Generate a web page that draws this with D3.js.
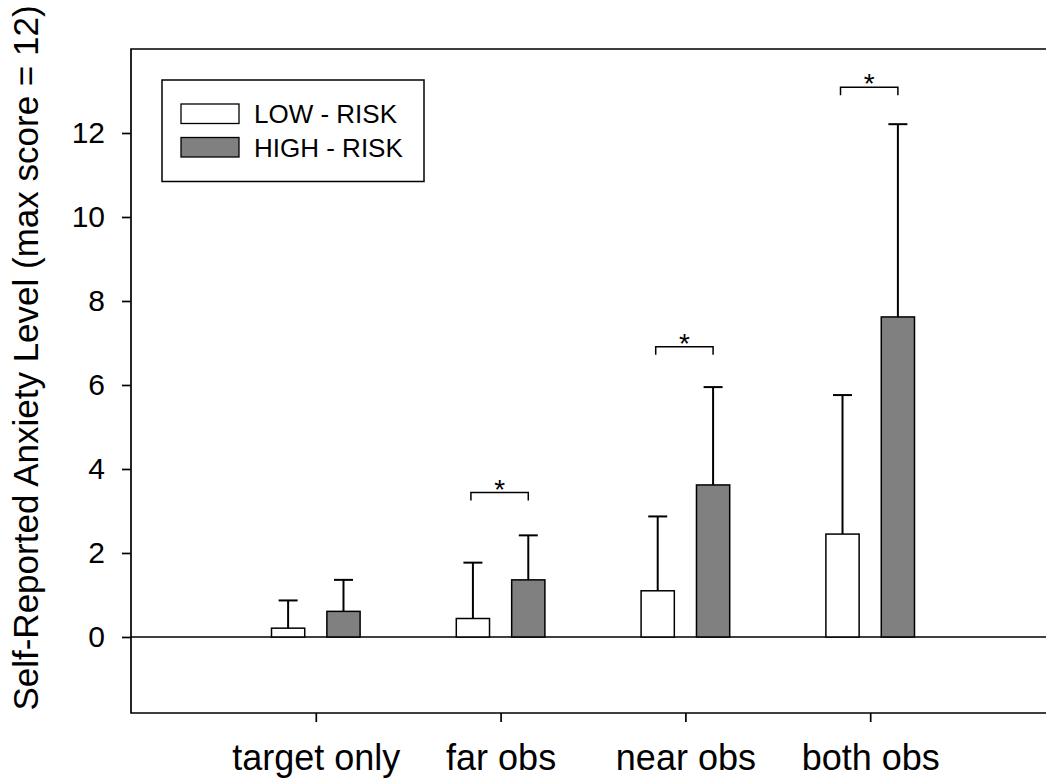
<!DOCTYPE html>
<html lang="en">
  <head>
    <meta charset="UTF-8" />
    <title>Self-Reported Anxiety Level</title>
    <script src="https://cdn.jsdelivr.net/npm/d3@7"></script>
    <style>
      html, body { margin: 0; padding: 0; background: #fff; }
      text { font-family: Arial, "Liberation Sans", sans-serif; fill: #000; }
    </style>
  </head>
  <body>
    <div id="svgCanvas"></div>
    <script>
      // data
      var categories = ["target only", "far obs", "near obs", "both obs"];
      var groups = ["LOW - RISK", "HIGH - RISK"];
      var lowMeans = [0.21, 0.44, 1.1, 2.45];
      var lowErr = [0.66, 1.33, 1.77, 3.31];
      var highMeans = [0.61, 1.36, 3.62, 7.62];
      var highErr = [0.75, 1.06, 2.33, 4.59];
      var sigBrackets = [
        { cat: "far obs", level: 3.44 },
        { cat: "near obs", level: 6.91 },
        { cat: "both obs", level: 13.09 }
      ];
      var yTicks = [0, 2, 4, 6, 8, 10, 12];
      var fills = ["#ffffff", "#808080"];

      var width = 1046, height = 784;
      var mLeft = 131, mTop = 49, mBottom = 713, mRight = 1055;

      var svg = d3.select("#svgCanvas").append("svg")
        .attr("width", width)
        .attr("height", height);

      var x = d3.scalePoint().domain(categories).range([mLeft, mRight]).padding(1);
      var xInner = d3.scaleBand().domain(groups).range([-44.3, 44.3]).paddingInner(0.4);
      var y = d3.scaleLinear().domain([-1.81, 14]).range([mBottom, mTop]);

      var rows = [];
      categories.forEach(function (c, i) {
        rows.push({ cat: c, g: groups[0], v: lowMeans[i], e: lowErr[i], fill: fills[0] });
        rows.push({ cat: c, g: groups[1], v: highMeans[i], e: highErr[i], fill: fills[1] });
      });

      // frame (open on the right, it runs off the canvas)
      svg.append("path")
        .attr("d", "M" + width + "," + mTop + "H" + mLeft + "V" + mBottom + "H" + width)
        .attr("fill", "none")
        .attr("stroke", "#000")
        .attr("stroke-width", 1.7);

      // zero line
      svg.append("line")
        .attr("x1", mLeft).attr("x2", width)
        .attr("y1", y(0)).attr("y2", y(0))
        .attr("stroke", "#000").attr("stroke-width", 1.7);

      // y axis
      var gY = svg.append("g")
        .attr("transform", "translate(" + mLeft + ",0)")
        .call(d3.axisLeft(y).tickValues(yTicks).tickSize(9).tickPadding(17).tickFormat(d3.format("d")));
      gY.select(".domain").remove();
      gY.selectAll(".tick line").attr("stroke", "#000").attr("stroke-width", 1.7);
      gY.selectAll(".tick text")
        .style("font-family", "Arial, 'Liberation Sans', sans-serif")
        .style("font-size", "30px")
        .attr("fill", "#000");

      // x axis
      var gX = svg.append("g")
        .attr("transform", "translate(0," + mBottom + ")")
        .call(d3.axisBottom(x).tickSize(9).tickPadding(22));
      gX.select(".domain").remove();
      gX.selectAll(".tick line").attr("stroke", "#000").attr("stroke-width", 1.7);
      gX.selectAll(".tick text")
        .style("font-family", "Arial, 'Liberation Sans', sans-serif")
        .style("font-size", "36px")
        .attr("fill", "#000");

      // y title
      svg.append("text")
        .attr("transform", "translate(38,358) rotate(-90)")
        .attr("text-anchor", "middle")
        .style("font-size", "35px")
        .text("Self-Reported Anxiety Level (max score = 12)");

      function cx(d) { return x(d.cat) + xInner(d.g) + xInner.bandwidth() / 2; }

      // error bars (upper only)
      svg.selectAll("line.err").data(rows).enter().append("line")
        .attr("class", "err")
        .attr("x1", cx).attr("x2", cx)
        .attr("y1", function (d) { return y(d.v); })
        .attr("y2", function (d) { return y(d.v + d.e); })
        .attr("stroke", "#000").attr("stroke-width", 2);
      svg.selectAll("line.cap").data(rows).enter().append("line")
        .attr("class", "cap")
        .attr("x1", function (d) { return cx(d) - 9.5; })
        .attr("x2", function (d) { return cx(d) + 9.5; })
        .attr("y1", function (d) { return y(d.v + d.e); })
        .attr("y2", function (d) { return y(d.v + d.e); })
        .attr("stroke", "#000").attr("stroke-width", 2);

      // bars
      svg.selectAll("rect.bar").data(rows).enter().append("rect")
        .attr("class", "bar")
        .attr("x", function (d) { return x(d.cat) + xInner(d.g); })
        .attr("width", xInner.bandwidth())
        .attr("y", function (d) { return y(d.v); })
        .attr("height", function (d) { return y(0) - y(d.v); })
        .attr("fill", function (d) { return d.fill; })
        .attr("stroke", "#000").attr("stroke-width", 1.5);

      // significance brackets
      sigBrackets.forEach(function (b) {
        var x1 = x(b.cat) + xInner(groups[0]) + xInner.bandwidth() / 2 - 2;
        var x2 = x(b.cat) + xInner(groups[1]) + xInner.bandwidth() / 2;
        var yb = y(b.level);
        svg.append("path")
          .attr("d", "M" + x1 + "," + (yb + 8) + "V" + yb + "H" + x2 + "V" + (yb + 8))
          .attr("fill", "none")
          .attr("stroke", "#000").attr("stroke-width", 1.5);
        svg.append("text")
          .attr("x", (x1 + x2) / 2)
          .attr("y", yb + 6)
          .attr("text-anchor", "middle")
          .style("font-size", "28px")
          .text("*");
      });

      // legend
      var lg = svg.append("g");
      lg.append("rect")
        .attr("x", 162).attr("y", 80)
        .attr("width", 262).attr("height", 101.5)
        .attr("fill", "#fff").attr("stroke", "#000").attr("stroke-width", 1.5);
      groups.forEach(function (g, i) {
        lg.append("rect")
          .attr("x", 181).attr("y", 104 + i * 33.5)
          .attr("width", 58).attr("height", 19.5)
          .attr("fill", fills[i]).attr("stroke", "#000").attr("stroke-width", 1.3);
        lg.append("text")
          .attr("x", 254).attr("y", 123 + i * 33.5)
          .style("font-size", "26px")
          .text(g);
      });
    </script>
  </body>
</html>
